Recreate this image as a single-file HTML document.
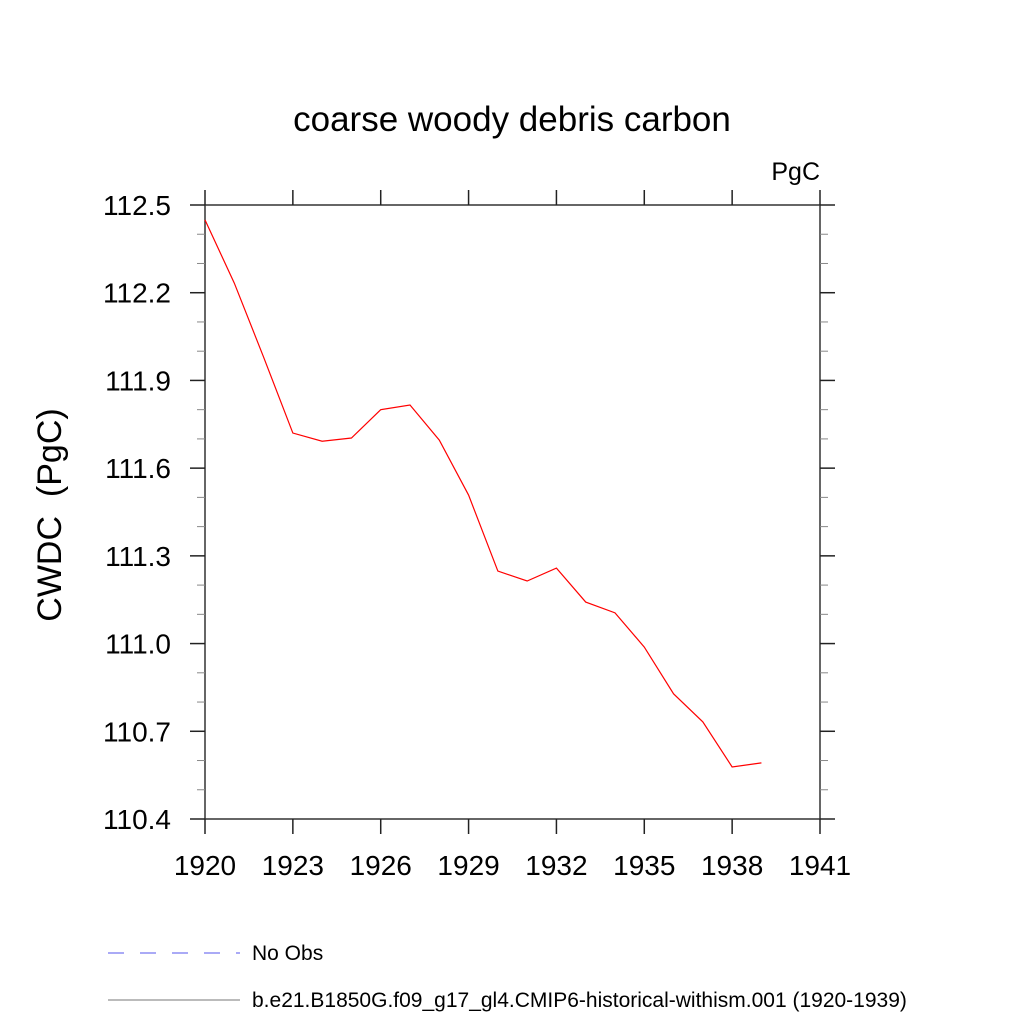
<!DOCTYPE html>
<html><head><meta charset="utf-8"><style>body{margin:0;background:#fff}svg{display:block}text{font-family:"Liberation Sans",sans-serif}</style></head>
<body>
<svg id="c" width="1024" height="1024" viewBox="0 0 1024 1024">
<text x="512" y="131" font-size="35" text-anchor="middle">coarse woody debris carbon</text>
<text x="820" y="180" font-size="25" text-anchor="end">PgC</text>
<text transform="translate(61,515) rotate(-90)" font-size="34" text-anchor="middle" xml:space="preserve">CWDC  (PgC)</text>
<g id="axes"></g>
<g id="series"></g>
<g>
<line x1="108" y1="953" x2="240" y2="953" stroke="#5555ee" stroke-width="1" stroke-dasharray="16,16"/>
<text x="252" y="960" font-size="21">No Obs</text>
<line x1="108" y1="1000" x2="240" y2="1000" stroke="#777" stroke-width="1"/>
<text x="252" y="1007" font-size="21">b.e21.B1850G.f09_g17_gl4.CMIP6-historical-withism.001 (1920-1939)</text>
</g>
</svg>
<script>
const years=[1920,1921,1922,1923,1924,1925,1926,1927,1928,1929,1930,1931,1932,1933,1934,1935,1936,1937,1938,1939];
const values=[112.449,112.233,111.98,111.72,111.692,111.703,111.80,111.816,111.696,111.508,111.248,111.214,111.258,111.142,111.105,110.988,110.828,110.732,110.578,110.592];
const xTicks=[1920,1923,1926,1929,1932,1935,1938,1941];
const yTicks=[110.4,110.7,111.0,111.3,111.6,111.9,112.2,112.5];
const L=205,R=820,T=205,B=819;
const X=v=>L+(v-1920)/(1941-1920)*(R-L);
const Y=v=>B-(v-110.4)/(112.5-110.4)*(B-T);
const ns="http://www.w3.org/2000/svg";
const ax=document.getElementById('axes');
function ln(x1,y1,x2,y2,c,w,name){const e=document.createElementNS(ns,'line');e.setAttribute('x1',x1);e.setAttribute('y1',y1);e.setAttribute('x2',x2);e.setAttribute('y2',y2);e.setAttribute('stroke',c);e.setAttribute('stroke-width',w);


ax.appendChild(e);}
function tx(x,y,s,a,name){const e=document.createElementNS(ns,'text');e.setAttribute('x',x);e.setAttribute('y',y);e.setAttribute('font-size','28');e.setAttribute('text-anchor',a);e.textContent=s;


ax.appendChild(e);}
ln(L,T,R,T,'#333',1.5,'plot-frame-top');ln(L,B,R,B,'#333',1.5,'plot-frame-bottom');
ln(L,T,L,B,'#333',1.5,'plot-frame-left');ln(R,T,R,B,'#333',1.5,'plot-frame-right');
xTicks.forEach(v=>{const x=X(v);ln(x,B,x,B+15,'#222',1.5,'x-tick');ln(x,T,x,T-15,'#222',1.5,'x-tick-top');tx(x,B+56,String(v),'middle','x-tick-label');});
yTicks.forEach((v,i)=>{const y=Y(v);ln(L-15,y,L,y,'#222',1.5,'y-tick');ln(R,y,R+15,y,'#222',1.5,'y-tick-right');tx(L-34,y+10,v.toFixed(1),'end','y-tick-label');
if(i<yTicks.length-1){for(let k=1;k<3;k++){const ym=Y(v+0.1*k);ln(L-8,ym,L,ym,'#888',1,'y-minor-tick');ln(R,ym,R+8,ym,'#888',1,'y-minor-tick-right');}}});
const p=document.createElementNS(ns,'polyline');
p.setAttribute('points',years.map((y,i)=>X(y)+','+Y(values[i])).join(' '));
p.setAttribute('fill','none');p.setAttribute('stroke','#ff0000');p.setAttribute('stroke-width','1.2');


document.getElementById('series').appendChild(p);
</script>
</body></html>
